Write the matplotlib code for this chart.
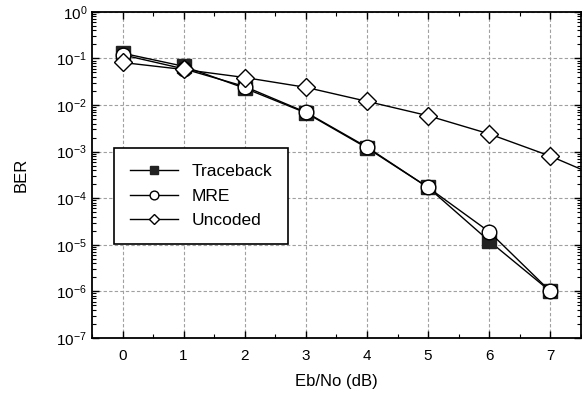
import matplotlib
matplotlib.use("Agg")
import matplotlib.pyplot as plt
from matplotlib.ticker import LogLocator, MultipleLocator, NullFormatter

plt.rcParams['font.family'] = ['Liberation Sans', 'DejaVu Sans']

# Eb/No in dB
ebno = [0, 1, 2, 3, 4, 5, 6, 7]
ebno_uncoded = [0, 1, 2, 3, 4, 5, 6, 7, 8]

traceback = [0.13, 0.068, 0.023, 0.0068, 0.0012, 1.7e-4, 1.2e-5, 1.0e-6]
mre = [0.12, 0.06, 0.025, 0.007, 0.00125, 1.7e-4, 1.9e-5, 1.0e-6]
uncoded = [0.082, 0.058, 0.039, 0.024, 0.012, 0.0059, 0.0024, 8.0e-4, 2.2e-4]

fig = plt.figure(figsize=(5.82, 3.97), dpi=100)
ax = fig.add_axes([0.158, 0.149, 0.84, 0.821])

ax.plot(ebno, traceback, color='black', lw=1, marker='s', ms=10,
        mfc='#222222', mec='#222222', label='Traceback')
ax.plot(ebno, mre, color='black', lw=1, marker='o', ms=10.5,
        mfc='white', mec='black', mew=1, label='MRE')
ax.plot(ebno_uncoded, uncoded, color='black', lw=1, marker='D', ms=9,
        mfc='white', mec='black', mew=1, label='Uncoded')

ax.set_yscale('log')
ax.set_xlim(-0.5, 7.5)
ax.set_ylim(1e-7, 1)
ax.set_xticks(ebno)
ax.xaxis.set_minor_locator(MultipleLocator(0.5))
ax.yaxis.set_major_locator(LogLocator(base=10, numticks=10))
ax.yaxis.set_minor_locator(LogLocator(base=10, subs=range(2, 10), numticks=20))
ax.yaxis.set_minor_formatter(NullFormatter())

ax.tick_params(which='both', direction='in', top=True, right=True, labelsize=11)
ax.tick_params(which='major', length=5, width=1)
ax.tick_params(which='minor', length=3, width=0.8)
ax.tick_params(axis='x', pad=8)
for s in ax.spines.values():
    s.set_linewidth(1.3)

ax.grid(True, which='major', ls=(0, (3, 2)), color='#a0a0a0', lw=0.8)
ax.set_axisbelow(True)

ax.set_xlabel('Eb/No (dB)', fontsize=12, labelpad=8)
ax.set_ylabel('BER', fontsize=12, labelpad=20)

leg = ax.legend(loc='lower left', bbox_to_anchor=(0.045, 0.288), fontsize=12.5,
                fancybox=False, framealpha=1, edgecolor='black',
                handlelength=2.8, markerscale=0.6, borderpad=0.9,
                labelspacing=0.55, borderaxespad=0)
leg.get_frame().set_linewidth(1.2)

fig.savefig('out.png', dpi=100)
